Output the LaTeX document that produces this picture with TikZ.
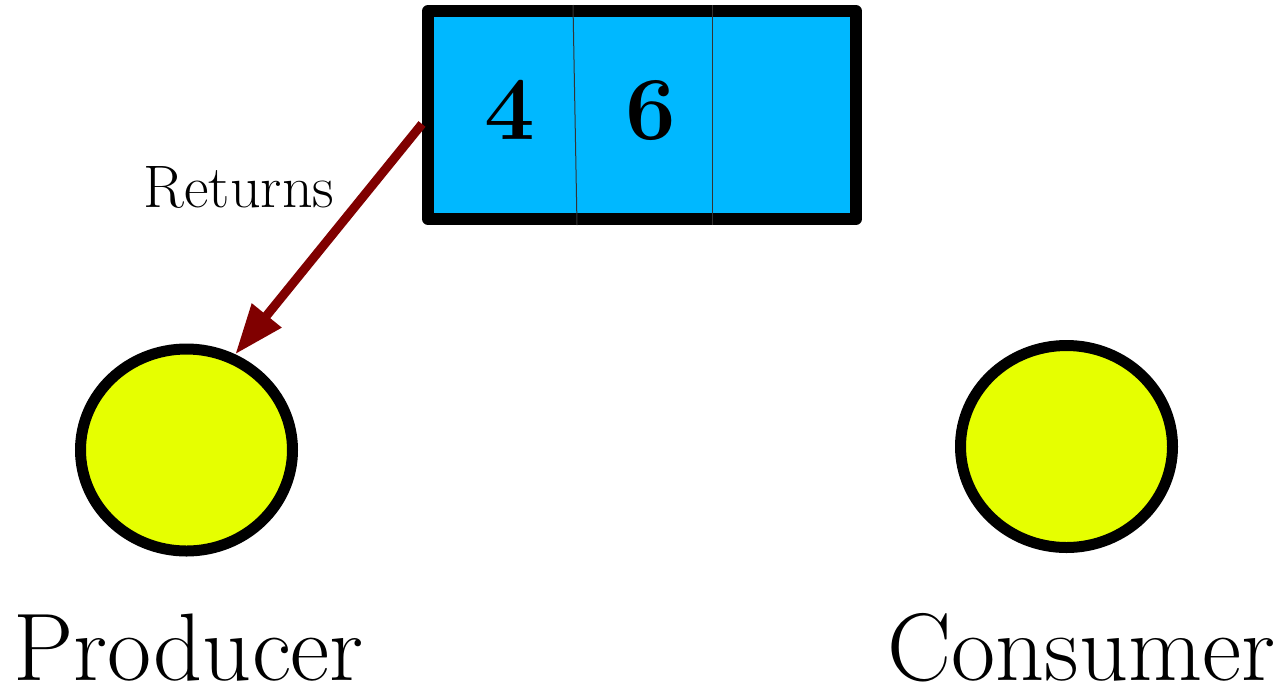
\documentclass[tikz,border=0pt]{standalone}
\usetikzlibrary{arrows.meta,shapes.geometric}
\definecolor{bufferblue}{RGB}{0,184,255}
\definecolor{procyellow}{RGB}{230,255,0}
\definecolor{arrowred}{RGB}{128,0,0}
\tikzstyle{bufferbox}=[rectangle,fill=bufferblue,draw,line width=6pt,line join=round,minimum width=214pt,minimum height=104pt,inner sep=0pt]
\tikzstyle{process}=[ellipse,fill=procyellow,draw,line width=5.5pt,minimum width=106pt,minimum height=101pt,inner sep=0pt]
\tikzstyle{slotline} = [draw,line width=0.5pt,black!80]
\tikzstyle{slotnum} = [font=\fontsize{45}{45}\selectfont\bfseries,anchor=base,inner sep=0pt]
\tikzstyle{procname} = [font=\fontsize{48}{48}\selectfont,anchor=base,inner sep=0pt]
\tikzstyle{returnedge} = [draw,arrowred,line width=4.5pt,-{Triangle[length=25pt,width=18pt]}]

\begin{document}
\begin{tikzpicture}[x=0.5pt,y=-0.5pt]
    \useasboundingbox (0,0) rectangle (1284,692);

    % the buffer
    \node[bufferbox] (buffer) at (642,115) {};
    \path[slotline] ([xshift=75.5pt]buffer.north west) -- ([xshift=77.5pt]buffer.south west);
    \path[slotline] ([xshift=145pt]buffer.north west) -- ([xshift=145pt]buffer.south west);
    \foreach \pos/ \name/ \val in {{(510,139)/first/4}, {(651,139)/second/6}}
        \node[slotnum] (\name) at \pos {\val};

    % producer and consumer
    \foreach \pos/ \name/ \lpos/ \label in {{(186.5,450)/producer/(188.5,680)/Producer}, {(1066.5,446.5)/consumer/(1081.5,680)/Consumer}}
    {
        \node[process] (\name) at \pos {};
        \node[procname] (\name label) at \lpos {\label};
    }

    % returned item
    \coordinate (retstart) at ([yshift=-4.5pt]buffer.west);
    \path[returnedge] (retstart) -- (producer.63);
    \node[font=\fontsize{30}{30}\selectfont,anchor=base,inner sep=0pt] (returns) at (239,207) {Returns};
\end{tikzpicture}
\end{document}
